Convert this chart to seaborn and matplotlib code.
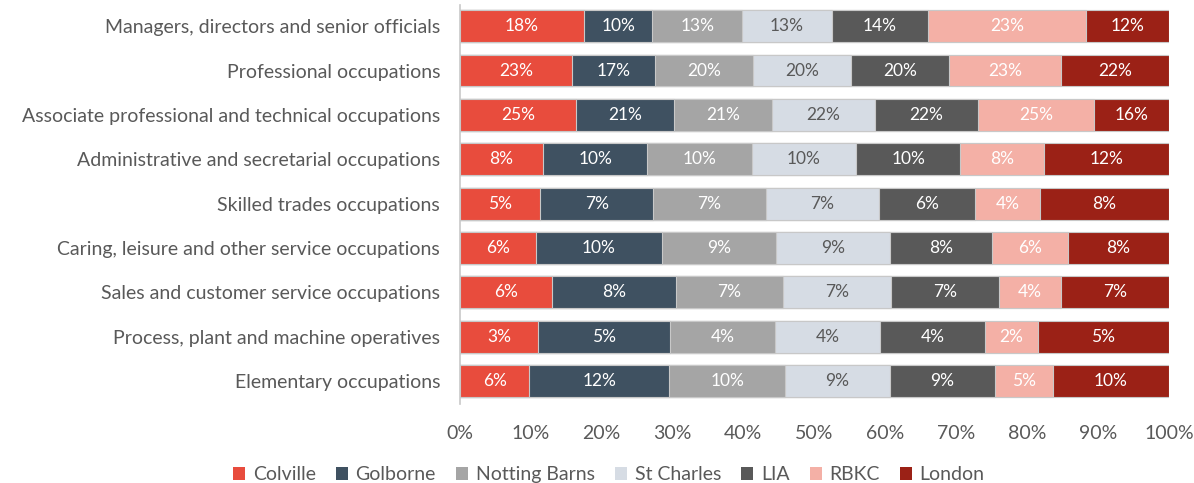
import numpy as np
import pandas as pd
import matplotlib.pyplot as plt
import seaborn as sns
from matplotlib.patches import Patch
from matplotlib.ticker import PercentFormatter

occupations = [
    "Managers, directors and senior officials",
    "Professional occupations",
    "Associate professional and technical occupations",
    "Administrative and secretarial occupations",
    "Skilled trades occupations",
    "Caring, leisure and other service occupations",
    "Sales and customer service occupations",
    "Process, plant and machine operatives",
    "Elementary occupations",
]

areas = ["Colville", "Golborne", "Notting Barns", "St Charles", "LIA", "RBKC", "London"]

colville = [18, 23, 25, 8, 5, 6, 6, 3, 6]
golborne = [10, 17, 21, 10, 7, 10, 8, 5, 12]
notting_barns = [13, 20, 21, 10, 7, 9, 7, 4, 10]
st_charles = [13, 20, 22, 10, 7, 9, 7, 4, 9]
lia = [14, 20, 22, 10, 6, 8, 7, 4, 9]
rbkc = [23, 23, 25, 8, 4, 6, 4, 2, 5]
london = [12, 22, 16, 12, 8, 8, 7, 5, 10]

colors = ["#E84C3D", "#3F5161", "#A5A5A5", "#D6DCE4", "#595959", "#F4B0A6", "#9B2116"]
text_colors = ["white", "white", "white", "#595959", "white", "white", "white"]

df = pd.DataFrame(
    np.array([colville, golborne, notting_barns, st_charles, lia, rbkc, london]).T,
    index=occupations, columns=areas,
)
# each bar is stretched to 100% of the row total
share = df.div(df.sum(axis=1), axis=0) * 100
cum = share.cumsum(axis=1)

sns.set_style("white")
plt.rcParams["font.family"] = ["Lato", "DejaVu Sans"]
text_grey = "#595959"

fig, ax = plt.subplots(figsize=(11.94, 4.83), dpi=100)
fig.subplots_adjust(left=0.385, right=0.979, top=0.990, bottom=0.163)

# draw from the right-most cumulative edge backwards so every segment shows
for area, col in zip(reversed(areas), reversed(colors)):
    sns.barplot(x=cum[area].values, y=occupations, color=col, orient="h",
                width=0.72, edgecolor="#c8c8c8", linewidth=0.8, ax=ax, saturation=1)

for j, area in enumerate(areas):
    for i, occ in enumerate(occupations):
        mid = cum[area].iloc[i] - share[area].iloc[i] / 2
        ax.text(mid, i, f"{df[area].iloc[i]}%", ha="center", va="center",
                color=text_colors[j], fontsize=12.5)

ax.set_xlim(0, 100)
ax.set_ylim(8.52, -0.48)
ax.set_xticks(range(0, 101, 10))
ax.xaxis.set_major_formatter(PercentFormatter(decimals=0))
ax.tick_params(axis="x", length=0, labelsize=14, labelcolor=text_grey, pad=15)
ax.tick_params(axis="y", length=0, labelsize=14, labelcolor=text_grey, pad=14)
ax.set_xlabel("")
ax.set_ylabel("")
for s in ["top", "right", "bottom"]:
    ax.spines[s].set_visible(False)
ax.spines["left"].set_color("#c8c8c8")
ax.spines["left"].set_linewidth(1.2)

handles = [Patch(facecolor=c, edgecolor="none") for c in colors]
fig.legend(handles, areas, loc="lower center", ncol=7, frameon=False,
           bbox_to_anchor=(0.51, -0.037), handlelength=0.6, handleheight=0.6,
           handletextpad=0.4, columnspacing=1.05, fontsize=14, labelcolor=text_grey)

fig.savefig("out.png", dpi=100)
